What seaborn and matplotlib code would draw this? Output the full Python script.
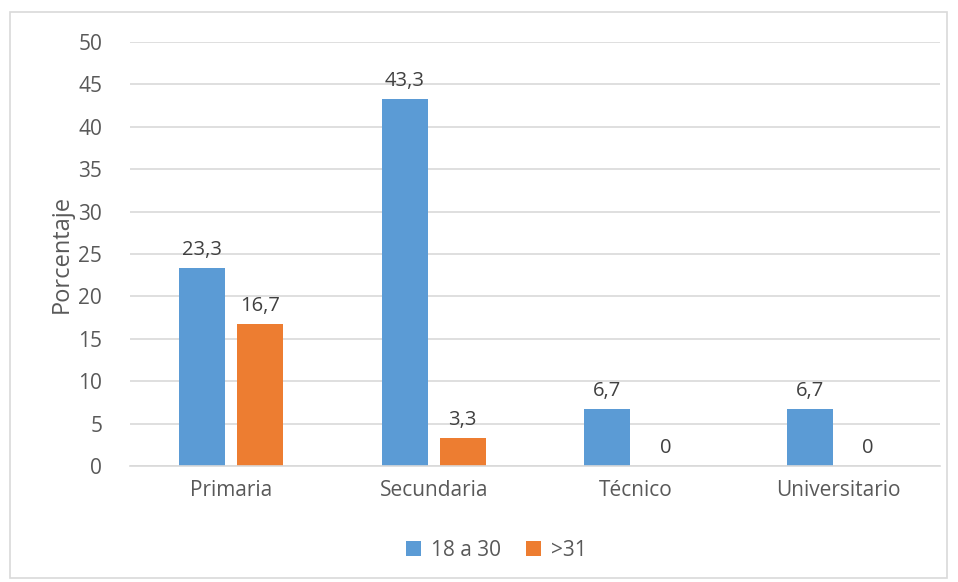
import pandas as pd
import seaborn as sns
import matplotlib.pyplot as plt
from matplotlib.patches import Rectangle

# datos
categorias = ["Primaria", "Secundaria", "Técnico", "Universitario"]
edad_18_30 = [23.3, 43.3, 6.7, 6.7]
edad_31 = [16.7, 3.3, 0, 0]
grupos = ["18 a 30", ">31"]

tabla = pd.DataFrame({
    "Nivel": categorias * 2,
    "Grupo": [grupos[0]] * 4 + [grupos[1]] * 4,
    "Porcentaje": edad_18_30 + edad_31,
})

sns.set_style("white")
plt.rcParams["font.family"] = ["Open Sans", "DejaVu Sans"]
gris = "#595959"

fig = plt.figure(figsize=(9.58, 5.82), dpi=100)
ax = fig.add_axes([0.1357, 0.1993, 0.8455, 0.7285])

ax.yaxis.grid(True, color="#d9d9d9", linewidth=1.2)
ax.set_axisbelow(True)

sns.barplot(data=tabla, x="Nivel", y="Porcentaje", hue="Grupo",
            palette=["#5b9bd5", "#ed7d31"], saturation=1, linewidth=0,
            width=0.573, gap=0.207, ax=ax, legend=True)

def etiqueta(v):
    return "0" if v == 0 else f"{v:.1f}".replace(".", ",")

for cont in ax.containers:
    ax.bar_label(cont, fmt=etiqueta, padding=6, fontsize=14.5, color="#404040")

ax.set_ylim(0, 50)
ax.set_yticks(range(0, 51, 5))
ax.set_xlim(-0.5, 3.5)
ax.set_xlabel("")
ax.set_ylabel("Porcentaje", fontsize=17, color=gris, labelpad=3)
ax.tick_params(axis="both", length=0, labelsize=15, labelcolor=gris)
ax.tick_params(axis="x", pad=10)
ax.tick_params(axis="y", pad=20)

for lado in ["top", "right", "left"]:
    ax.spines[lado].set_visible(False)
ax.spines["bottom"].set_color("#d9d9d9")
ax.spines["bottom"].set_linewidth(1.2)

ax.legend(loc="upper center", bbox_to_anchor=(0.452, -0.13), ncol=2,
          frameon=False, fontsize=15, labelcolor=gris,
          handlelength=0.75, handleheight=0.75, handletextpad=0.45,
          columnspacing=1.2)

fig.patches.append(Rectangle((10 / 958, 4 / 582), 937 / 958, 566 / 582,
                             transform=fig.transFigure, fill=False,
                             edgecolor="#d9d9d9", linewidth=1.2))

fig.savefig("out.png", dpi=100)
